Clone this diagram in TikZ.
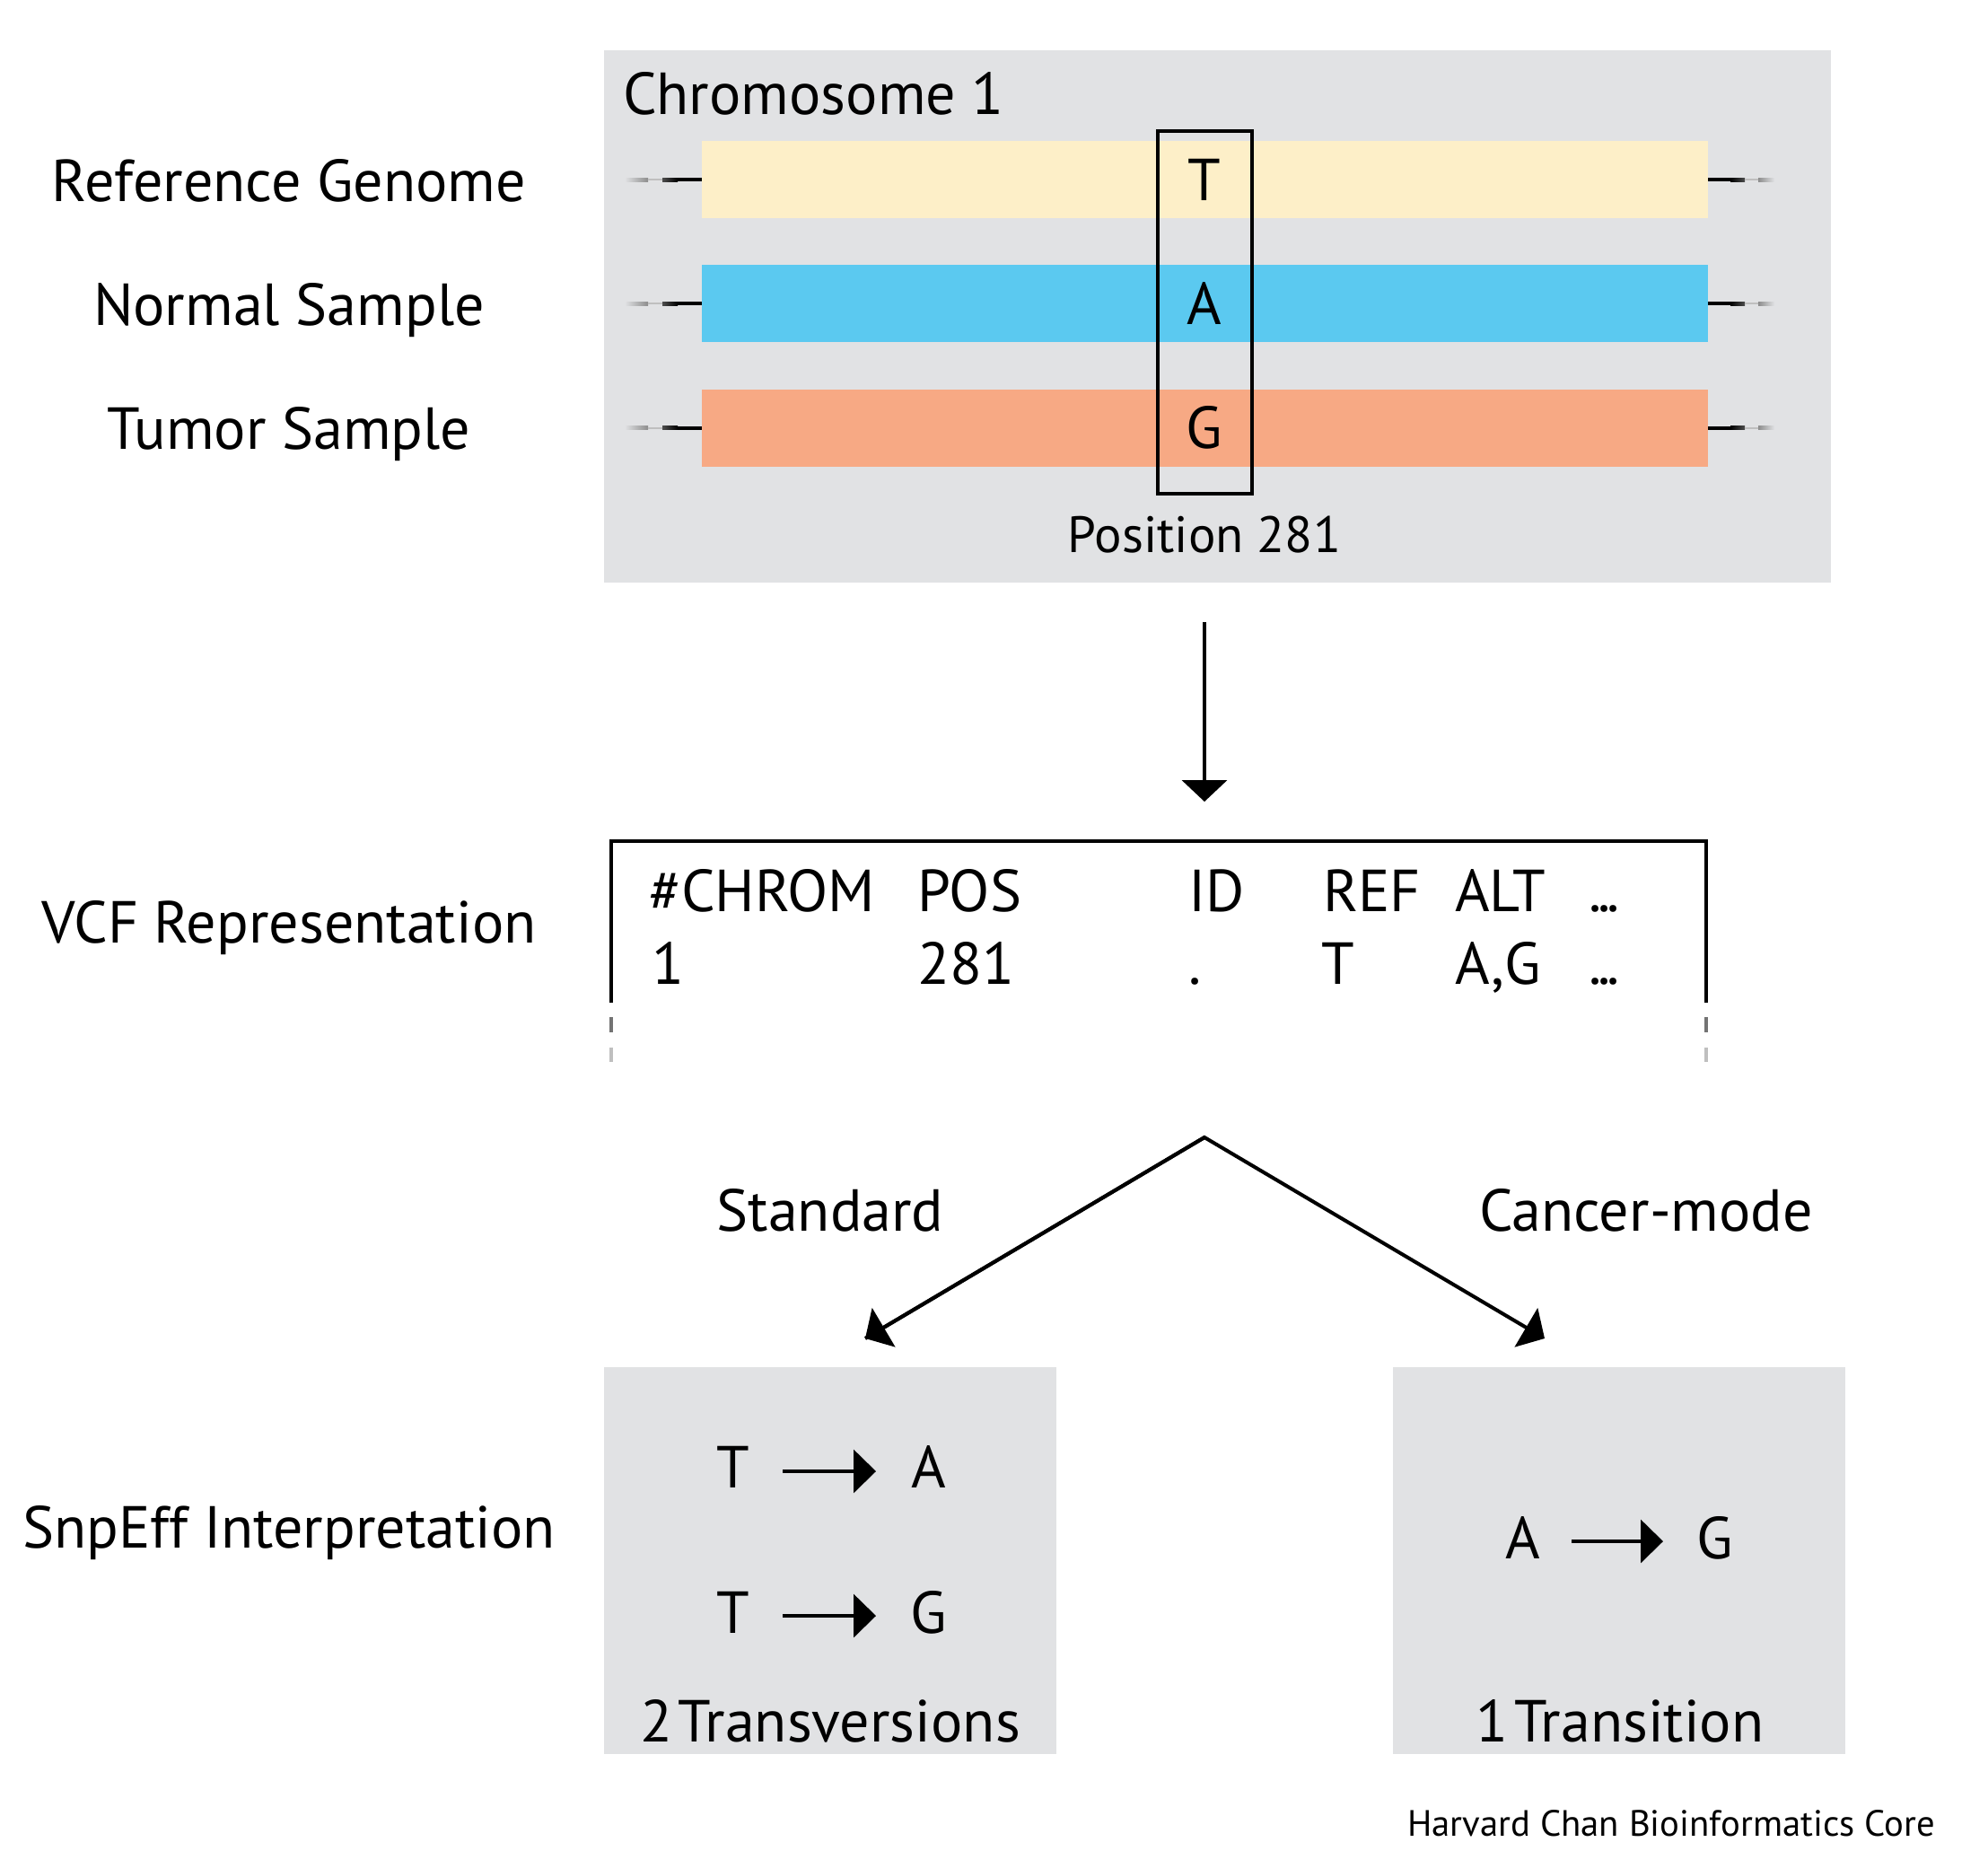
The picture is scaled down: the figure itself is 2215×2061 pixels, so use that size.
\documentclass[tikz,border=0pt]{standalone}
\usepackage{fontspec}
\setmainfont{PT Sans}
\usetikzlibrary{arrows.meta}
\definecolor{boxgray}{RGB}{225,226,228}
\definecolor{refyellow}{RGB}{253,239,200}
\definecolor{normblue}{RGB}{91,201,240}
\definecolor{tumorange}{RGB}{247,169,132}
\newcommand{\tdots}{.\kern-0.06em.\kern-0.06em.}
\begin{document}
\begin{tikzpicture}[x=0.1mm,y=-0.1mm,
  every node/.style={inner sep=0pt,outer sep=0pt},
  lbl/.style={font=\fontsize{18.8}{22}\selectfont},
  poslbl/.style={font=\fontsize{16.2}{19}\selectfont},
  small/.style={font=\fontsize{11.6}{14}\selectfont},
  bigarr/.style={line width=1.15pt,-{Triangle[length=2.4mm,width=5mm]}},
  tinyarr/.style={line width=1.1pt,-{Triangle[length=2.5mm,width=4.8mm]}},
  bar/.style={inner sep=0pt,minimum width=112.1mm,minimum height=8.6mm,anchor=west},
  graybox/.style={fill=boxgray,draw=none,anchor=north west}
]
\useasboundingbox (0,0) rectangle (2215,2061);
\fill[white] (0,0) rectangle (2215,2061);

% top panel
\node[graybox,minimum width=136.7mm,minimum height=59.3mm] (chrombox) at (673,56) {};
\node[lbl,anchor=base west] (chromlbl) at (694,127) {Chromosome 1};

\node[bar,fill=refyellow] (refbar) at (782,200) {};
\node[bar,fill=normblue] (normbar) at (782,338) {};
\node[bar,fill=tumorange] (tumbar) at (782,476.5) {};

% stubs
\foreach \yy in {200,338,476.5}{
  \shade[left color=boxgray,right color=black!45] (696,\yy-2) rectangle (722,\yy+2);
  \fill[black!25] (722,\yy-1) rectangle (738,\yy+1);
  \shade[left color=black!70,right color=black] (738,\yy-2) rectangle (755,\yy+2);
  \fill[black] (755,\yy-2) rectangle (782,\yy+2);
  \fill[black] (1903,\yy-2) rectangle (1928,\yy+2);
  \shade[left color=black,right color=black!70] (1928,\yy-2) rectangle (1944,\yy+2);
  \fill[black!25] (1944,\yy-1) rectangle (1959,\yy+1);
  \shade[left color=black!45,right color=boxgray] (1959,\yy-2) rectangle (1977,\yy+2);
}

\node[draw=black,line width=1pt,minimum width=10.5mm,minimum height=40.4mm,anchor=north west] (posbox) at (1290,146) {};
\node[lbl] (tref) at (1342,200) {T};
\node[lbl] (anorm) at (1342,338) {A};
\node[lbl] (gtum) at (1342,476.5) {G};
\node[poslbl,anchor=base] (poslabel) at (1342,615) {Position 281};

% left labels
\node[lbl,anchor=base] (lref) at (322,224) {Reference Genome};
\node[lbl,anchor=base] (lnorm) at (322,362) {Normal Sample};
\node[lbl,anchor=base] (ltum) at (322,500) {Tumor Sample};
\node[lbl,anchor=base] (lvcf) at (322,1050) {VCF Representation};
\node[lbl,anchor=base] (lsnp) at (322,1724) {SnpEff Interpretation};

% arrow to VCF
\coordinate (chrombot) at (1342,649);
\coordinate (vcftop) at (1342,937);
\draw[bigarr,shorten <=4.4mm,shorten >=4.4mm] (chrombot) -- (vcftop);

% VCF box
\coordinate (vtl) at (681,937);
\coordinate (vtr) at (1901,937);
\draw[line width=1pt] (681,1117) -- (vtl) -- (vtr) -- (1901,1117);
\foreach \xx in {681,1901}{
  \draw[line width=1pt,black!55] (\xx,1133) -- (\xx,1150);
  \draw[line width=1pt,black!25] (\xx,1167) -- (\xx,1183);
}
\node[lbl,anchor=base west] (h1) at (723,1015) {\#CHROM};
\node[lbl,anchor=base west] (h2) at (1022,1015) {POS};
\node[lbl,anchor=base west] (h3) at (1324,1015) {ID};
\node[lbl,anchor=base west] (h4) at (1474,1015) {REF};
\node[lbl,anchor=base west] (h5) at (1621,1015) {ALT};
\node[lbl,anchor=base west] (h6) at (1770,1015) {\tdots};
\node[lbl,anchor=base west] (r1) at (726,1096) {1};
\node[lbl,anchor=base west] (r2) at (1022,1096) {281};
\node[lbl,anchor=base west] (r3) at (1324,1096) {.};
\node[lbl,anchor=base west] (r4) at (1472,1096) {T};
\node[lbl,anchor=base west] (r5) at (1621,1096) {A,G};
\node[lbl,anchor=base west] (r6) at (1770,1096) {\tdots};

% branches
\coordinate (apex) at (1342,1267);
\coordinate (ltip) at (964,1491);
\coordinate (rtip) at (1721,1491);
\draw[bigarr,line join=miter] (ltip) -- (apex) -- (rtip);
\draw[bigarr] (apex) -- (ltip);
\node[lbl,anchor=base] (stdlbl) at (925,1371) {Standard};
\node[lbl,anchor=base] (canlbl) at (1834,1371) {Cancer-mode};

% bottom boxes
\node[graybox,minimum width=50.4mm,minimum height=43.1mm] (lbox) at (673,1523) {};
\node[graybox,minimum width=50.4mm,minimum height=43.1mm] (rbox) at (1552,1523) {};

\node[lbl,anchor=base] (t1) at (817,1657) {T};
\node[lbl,anchor=base] (a1) at (1035,1657) {A};
\coordinate (s1) at (872,1639); \coordinate (e1) at (976,1639);
\draw[tinyarr] (s1) -- (e1);
\node[lbl,anchor=base] (t2) at (817,1819) {T};
\node[lbl,anchor=base] (g2) at (1035,1819) {G};
\coordinate (s2) at (872,1800); \coordinate (e2) at (976,1800);
\draw[tinyarr] (s2) -- (e2);
\node[lbl,anchor=base] (transv) at (925,1940) {2\hspace{0.1em}Transversions};

\node[lbl,anchor=base] (a3) at (1697,1736) {A};
\node[lbl,anchor=base] (g3) at (1911,1736) {G};
\coordinate (s3) at (1751,1717); \coordinate (e3) at (1853,1717);
\draw[tinyarr] (s3) -- (e3);
\node[lbl,anchor=base] (transi) at (1805,1940) {1\hspace{0.1em}Transition};

\node[small,anchor=base east] (credit) at (2156,2045) {Harvard Chan Bioinformatics Core};
\end{tikzpicture}
\end{document}
